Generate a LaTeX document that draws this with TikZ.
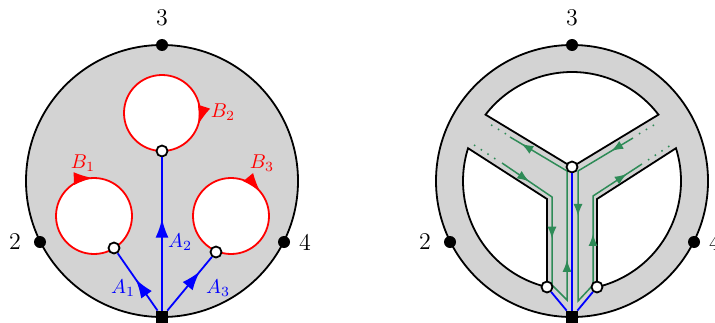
\documentclass[tikz,border=0pt]{standalone}
\usepackage{amsmath,amssymb,amsfonts}
\usetikzlibrary{arrows.meta, decorations.markings}
\definecolor{diskgray}{RGB}{211,211,211}
\definecolor{loopgreen}{RGB}{46,139,87}

\begin{document}
\begin{tikzpicture}[x=0.5pt, y=0.5pt,
  blackdot/.style={circle, fill=black, inner sep=0pt, minimum size=6pt},
  whitedot/.style={circle, draw=black, fill=white, line width=0.9pt, inner sep=0pt, minimum size=5.5pt},
  basept/.style={rectangle, fill=black, inner sep=0pt, minimum size=6pt},
  tipat/.style={postaction={decorate}, decoration={markings,
    mark=at position #1 with {\arrow{Latex[length=9.5pt,width=6.5pt]}}}},
  aline/.style={blue, line width=0.9pt},
  bloop/.style={red, line width=0.9pt, fill=white},
  gline/.style={loopgreen, line width=0.75pt},
  gdots/.style={loopgreen, line width=0.75pt, dash pattern=on 0.75pt off 3.25pt},
  numlab/.style={font=\large}]
\useasboundingbox (0,0) rectangle (715,322);

% left disc with three holes
\draw[line width=0.9pt, fill=diskgray] (162,141) circle[radius=136];
\draw[bloop, tipat=0.245] (94,106) ++(180:38) arc[start angle=180, end angle=-180, radius=38];
\draw[bloop, tipat=0.55] (162,209) ++(180:38) arc[start angle=180, end angle=-180, radius=38];
\draw[bloop, tipat=0.39] (231,106) ++(180:38) arc[start angle=180, end angle=-180, radius=38];
\node[basept] (l0) at (162,5) {};
\node[whitedot] (d1) at (114,74) {};
\node[whitedot] (d2) at (162,171) {};
\node[whitedot] (d3) at (216,70) {};
\draw[aline, tipat=0.55] (l0) -- (d1);
\draw[aline, tipat=0.6] (l0) -- (d2);
\draw[aline, tipat=0.73] (l0) -- (d3);
\node[basept] at (l0) {};
\node[blackdot] (l2) at (40,80) {};
\node[blackdot] (l3) at (162,277) {};
\node[blackdot] (l4) at (284,80) {};
\node[numlab] at (15,80) {2};
\node[numlab] at (162,304) {3};
\node[numlab] at (305,80) {4};
\node[blue] at (123,34) {$A_1$};
\node[blue] at (180,80) {$A_2$};
\node[blue] at (218,34) {$A_3$};
\node[red] at (83,159) {$B_1$};
\node[red] at (223,210) {$B_2$};
\node[red] at (262,159) {$B_3$};

% right disc, thickened graph
\draw[line width=0.9pt, fill=diskgray] (572,141) circle[radius=136];
\draw[line width=0.9pt, fill=white] (572,155) -- ([shift={(142.5:109)}]572,141)
  arc[start angle=142.5, end angle=37.5, radius=109] -- cycle;
\draw[line width=0.9pt, fill=white] (547,123) -- ([shift={(162.5:109)}]572,141)
  arc[start angle=162.5, end angle=256.7, radius=109] -- cycle;
\draw[line width=0.9pt, fill=white] (597,123) -- ([shift={(17.5:109)}]572,141)
  arc[start angle=17.5, end angle=-76.7, radius=109] -- cycle;

% green loops
\draw[gdots] (474,177) -- (497,162);
\draw[gline, postaction={decorate}, decoration={markings,
    mark=at position 0.09 with {\arrow{Latex[length=6pt,width=4.5pt]}},
    mark=at position 0.28 with {\arrow{Latex[length=6pt,width=4.5pt]}},
    mark=at position 0.575 with {\arrow{Latex[length=6pt,width=4.5pt]}},
    mark=at position 0.964 with {\arrow{Latex[length=6pt,width=4.5pt]}}}]
  (502,159) -- (552,125) -- (552,37) -- (567,22) -- (567,151) -- (510,185);
\draw[gdots] (506,188) -- (488,199);
\draw[gdots] (654,197) -- (637,187);
\draw[gline, postaction={decorate}, decoration={markings,
    mark=at position 0.07 with {\arrow{Latex[length=6pt,width=4.5pt]}},
    mark=at position 0.3 with {\arrow{Latex[length=6pt,width=4.5pt]}},
    mark=at position 0.735 with {\arrow{Latex[length=6pt,width=4.5pt]}},
    mark=at position 0.95 with {\arrow{Latex[length=6pt,width=4.5pt]}}}]
  (633,184) -- (578,151) -- (578,21) -- (593,37) -- (593,126) -- (642,158);
\draw[gdots] (648,162) -- (671,177);

\node[basept] (r0) at (572,5) {};
\node[whitedot] (c) at (572,155) {};
\node[whitedot] (e1) at (547,35) {};
\node[whitedot] (e2) at (597,35) {};
\draw[aline] (r0) -- (c);
\draw[aline] (r0) -- (e1);
\draw[aline] (r0) -- (e2);
\node[blackdot] (r2) at (450,80) {};
\node[blackdot] (r3) at (572,277) {};
\node[blackdot] (r4) at (694,80) {};
\node[numlab] at (425,80) {2};
\node[numlab] at (572,304) {3};
\node[numlab] at (715,80) {4};
\end{tikzpicture}
\end{document}
